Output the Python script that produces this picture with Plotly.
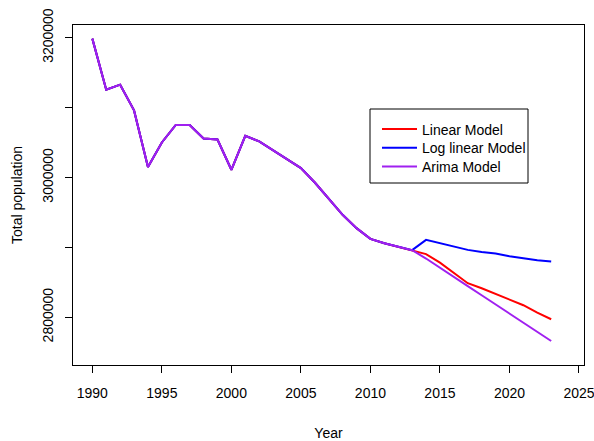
import plotly.graph_objects as go

# Observed total population, 1990-2013
hist_years = list(range(1990, 2014))
observed = [3198700, 3125600, 3132800, 3096000, 3014900, 3050100, 3075100,
            3075100, 3055900, 3054400, 3011000, 3059700, 3051600, 3038700,
            3026800, 3013500, 2992800, 2969500, 2946600, 2927500, 2912200,
            2906000, 2900500, 2896000]

# Forecasts, 2014-2023
fc_years = list(range(2014, 2024))
linear_fc = [2890300, 2878200, 2863000, 2848700, 2841500, 2833400, 2825800,
             2817200, 2806600, 2797100]
loglinear_fc = [2910700, 2906000, 2902100, 2896400, 2893500, 2891100, 2887400,
                2884000, 2881700, 2879700]
arima_fc = [2884000, 2870500, 2857500, 2844500, 2831500, 2818500, 2805500,
            2792500, 2779000, 2766000]

y_ticks = [2800000, 2900000, 3000000, 3100000, 3200000]
y_tick_text = ["2800000", "", "3000000", "", "3200000"]
x_ticks = [1990, 1995, 2000, 2005, 2010, 2015, 2020, 2025]

series = [
    ("Linear Model", linear_fc, "#FF0000"),
    ("Log linear Model", loglinear_fc, "#0000FF"),
    ("Arima Model", arima_fc, "#A020F0"),
]

FONT = "Liberation Sans, Arial, sans-serif"
FS = 14

W, H = 594, 441
ML, MR, MT, MB = 73, 10, 25, 76
PW, PH = W - ML - MR, H - MT - MB


def px_x(px):
    return (px - ML) / PW


def px_y(py):
    return (H - MB - py) / PH


legend_ids = ["legend", "legend2", "legend3"]
legend_tops = [113.5, 132.2, 150.9]

fig = go.Figure()
for (name, fc, color), lid in zip(series, legend_ids):
    fig.add_trace(go.Scatter(
        x=hist_years + fc_years,
        y=observed + fc,
        mode="lines",
        name=name,
        legend=lid,
        line=dict(color=color, width=2),
    ))

# legend frame
fig.add_shape(
    type="rect", xref="paper", yref="paper",
    x0=px_x(370), x1=px_x(528), y0=px_y(183), y1=px_y(109),
    line=dict(color="black", width=1), fillcolor="white", layer="above",
)

legend_style = dict(
    xanchor="left", yanchor="top",
    borderwidth=0, bgcolor="rgba(0,0,0,0)",
    font=dict(family=FONT, size=FS, color="black"),
    itemwidth=35,
)

fig.update_layout(
    width=W, height=H,
    margin=dict(l=ML, r=MR, t=MT, b=MB),
    plot_bgcolor="white", paper_bgcolor="white",
    font=dict(family=FONT, size=FS, color="black"),
    showlegend=True,
)
for lid, top in zip(legend_ids, legend_tops):
    fig.update_layout({lid: dict(x=px_x(377), y=px_y(top), **legend_style)})

fig.update_xaxes(
    range=[1988.61, 2025.36],
    tickvals=x_ticks,
    ticks="outside", ticklen=7, tickwidth=1, tickcolor="black",
    showline=True, linecolor="black", linewidth=1, mirror=True,
    showgrid=False, zeroline=False, automargin=False,
    ticklabeloverflow="allow",
    ticklabelstandoff=8,
    title=dict(text="Year", standoff=28, font=dict(family=FONT, size=FS)),
)
fig.update_yaxes(
    range=[2731665, 3218194],
    tickvals=y_ticks, ticktext=y_tick_text, tickangle=-90,
    ticks="outside", ticklen=7, tickwidth=1, tickcolor="black",
    showline=True, linecolor="black", linewidth=1, mirror=True,
    showgrid=False, zeroline=False, automargin=False,
    ticklabeloverflow="allow",
    ticklabelstandoff=6,
    title=dict(text="Total population", standoff=14, font=dict(family=FONT, size=FS)),
)

fig.write_html("out.html")
